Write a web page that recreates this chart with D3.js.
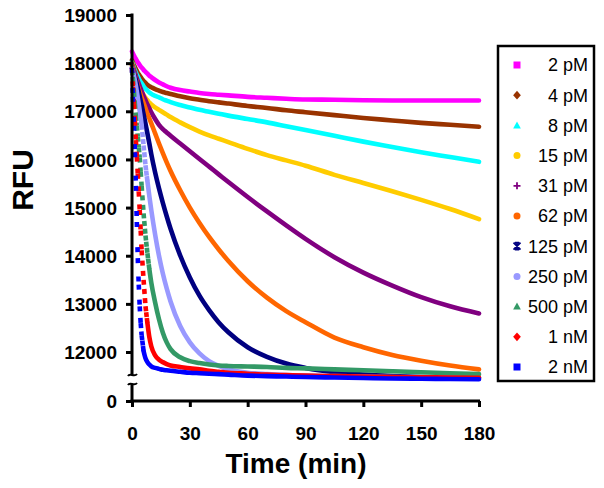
<!DOCTYPE html>
<html>
<head>
<meta charset="utf-8">
<script src="https://cdn.jsdelivr.net/npm/d3@7"></script>
<style>
  html, body { margin: 0; padding: 0; background: #fff; }
  svg { display: block; font-family: "Liberation Sans", Arial, sans-serif; }
</style>
</head>
<body>
<svg id="chart" width="604" height="488"></svg>
<script>
// ---------------- DATA ----------------
const times = [0, 0.5, 1, 1.5, 2, 2.5, 3, 3.5, 4, 4.5, 5, 6, 7, 8, 9, 10, 12, 14, 16, 18, 20, 25, 30, 35, 40, 45, 50, 60, 70, 80, 90, 105, 120, 135, 150, 165, 180];

const seriesLabels = ["2 pM", "4 pM", "8 pM", "15 pM", "31 pM", "62 pM", "125 pM", "250 pM", "500 pM", "1 nM", "2 nM"];

const v2pM   = [18240,18200,18160,18120,18090,18050,18020,17990,17960,17930,17910,17860,17820,17780,17740,17710,17650,17600,17560,17520,17490,17440,17410,17380,17360,17345,17330,17300,17280,17260,17245,17240,17230,17225,17225,17225,17225];
const v4pM   = [18060,18010,17960,17920,17880,17840,17800,17770,17740,17710,17680,17630,17590,17550,17520,17500,17460,17430,17400,17380,17360,17310,17270,17240,17210,17185,17160,17110,17070,17020,16980,16920,16860,16810,16760,16720,16680];
const v8pM   = [18020,17960,17900,17850,17800,17760,17720,17680,17640,17610,17580,17520,17470,17430,17390,17360,17320,17290,17250,17220,17190,17130,17080,17030,16990,16950,16910,16840,16770,16690,16610,16490,16370,16260,16150,16050,15950];
const v15pM  = [18000,17920,17850,17780,17720,17660,17600,17550,17500,17450,17410,17340,17280,17230,17180,17140,17080,17030,16980,16930,16880,16770,16670,16580,16500,16430,16360,16220,16090,15980,15870,15680,15510,15340,15160,14970,14760];
const v31pM  = [17980,17920,17860,17800,17740,17685,17630,17575,17520,17470,17420,17320,17230,17140,17060,16980,16840,16720,16630,16560,16490,16330,16170,16010,15850,15690,15530,15220,14920,14630,14350,13970,13650,13380,13140,12950,12800];
const v62pM  = [17950,17880,17810,17740,17670,17600,17530,17470,17400,17340,17280,17170,17060,16950,16850,16750,16540,16330,16130,15940,15760,15360,15000,14680,14390,14130,13890,13470,13130,12850,12620,12300,12100,11940,11820,11720,11640];
const v125pM = [17900,17850,17790,17720,17650,17570,17490,17400,17310,17220,17130,16940,16740,16540,16330,16110,15730,15400,15100,14820,14560,14005,13550,13170,12870,12615,12410,12100,11900,11760,11670,11580,11530,11500,11480,11470,11460];
const v250pM = [17900,17830,17740,17640,17530,17410,17280,17150,17010,16870,16720,16290,15880,15550,15235,14950,14440,14000,13630,13320,13050,12540,12200,11970,11810,11710,11640,11570,11540,11520,11510,11500,11490,11480,11475,11470,11465];
const v500pM = [17850,17650,17400,17150,16900,16700,16470,16250,16040,15740,15450,14880,14420,14050,13720,13440,13030,12680,12400,12200,12060,11890,11810,11770,11740,11720,11710,11700,11690,11670,11660,11640,11620,11600,11580,11560,11540];
const v1nM   = [17900,17500,17150,16800,16400,16060,15700,15330,14950,14520,14110,13500,12950,12600,12310,12120,11930,11840,11790,11750,11720,11690,11660,11640,11610,11590,11570,11550,11530,11520,11510,11500,11490,11480,11475,11470,11465];
const v2nM   = [17900,17300,16700,16150,15450,14700,13950,13400,12950,12600,12350,12020,11870,11790,11740,11700,11670,11650,11630,11620,11610,11590,11570,11560,11550,11540,11530,11510,11500,11490,11480,11470,11460,11450,11445,11440,11435];

const seriesValues = [v2pM, v4pM, v8pM, v15pM, v31pM, v62pM, v125pM, v250pM, v500pM, v1nM, v2nM];

const xTicks = [0, 30, 60, 90, 120, 150, 180];
const yTicks = [12000, 13000, 14000, 15000, 16000, 17000, 18000, 19000];
const yLowTicks = [0];

// ---------------- STYLE ----------------
const colors = ["#FF00FF", "#993300", "#00FFFF", "#FFCC00", "#800080", "#FF6600", "#000080", "#9999FF", "#339966", "#FF0000", "#0000FF"];
const markers = ["square", "diamond", "triangle", "circle", "plus", "circle", "star", "circle", "triangle", "diamond", "square"];

const svg = d3.select("#chart");

const x = d3.scaleLinear().domain([0, 180]).range([132, 479]);
const y = d3.scaleLinear().domain([11450, 19000]).range([378.5, 15]);
const yLow = d3.scaleLinear().domain([0, 300]).range([401, 386]);

const axisX = 132, axisY = 401;
const breakTop = 375, breakBot = 384;

function markerPath(type, s) {
  const h = s / 2;
  switch (type) {
    case "square": return `M${-h},${-h}H${h}V${h}H${-h}Z`;
    case "diamond": return `M0,${-h*1.25}L${h*1.1},0L0,${h*1.25}L${-h*1.1},0Z`;
    case "triangle": return `M0,${-h*1.15}L${h*1.1},${h*0.85}L${-h*1.1},${h*0.85}Z`;
    case "circle": return `M${h},0A${h},${h} 0 1,1 ${-h},0A${h},${h} 0 1,1 ${h},0Z`;
    case "plus": return `M${-h},0H${h}M0,${-h}V${h}`;
    case "star": return `M${-h},${-h}L${h},${h}M${h},${-h}L${-h},${h}M0,${-h}V${h}M${-h*0.6},${-h}H${h*0.6}M${-h*0.6},${h}H${h*0.6}`;
  }
}
function isStroked(type) { return type === "plus" || type === "star"; }

function drawMarker(g, type, cx, cy, s, color) {
  const p = g.append("path")
    .attr("d", markerPath(type, s))
    .attr("transform", `translate(${cx},${cy})`);
  if (isStroked(type)) {
    p.attr("fill", "none").attr("stroke", color).attr("stroke-width", 1.8);
  } else {
    p.attr("fill", color).attr("stroke", "none");
  }
}

// ---------------- CURVES ----------------
const plot = svg.append("g");
const lineGen = d3.line().x(d => x(d[0])).y(d => y(d[1])).curve(d3.curveMonotoneX);
const steepLimit = 8;      // px/px above which the sampled markers separate
const sampleDx = 0.67;     // horizontal pixel spacing of the original samples
const markSize = 5;

seriesValues.forEach((vals, si) => {
  const pts = times.map((t, i) => [t, vals[i]]);
  const g = plot.append("g");
  const segs = [];
  for (let i = 0; i < pts.length - 1; i++) {
    const dx = x(pts[i + 1][0]) - x(pts[i][0]);
    const dy = y(pts[i + 1][1]) - y(pts[i][1]);
    segs.push(Math.abs(dy / dx));
  }
  let run = [];
  const flush = () => {
    if (run.length > 1) {
      g.append("path").attr("d", lineGen(run))
        .attr("fill", "none").attr("stroke", colors[si])
        .attr("stroke-width", 4.6).attr("stroke-linejoin", "round").attr("stroke-linecap", "round");
    }
    run = [];
  };
  for (let i = 0; i < segs.length; i++) {
    const s = segs[i];
    if (s < steepLimit) {
      if (run.length === 0) run.push(pts[i]);
      run.push(pts[i + 1]);
    } else {
      flush();
      const gap = Math.max(0.5, sampleDx * s - markSize);
      g.append("line")
        .attr("x1", x(pts[i][0])).attr("y1", y(pts[i][1]))
        .attr("x2", x(pts[i + 1][0])).attr("y2", y(pts[i + 1][1]))
        .attr("stroke", colors[si]).attr("stroke-width", 4.6)
        .attr("stroke-dasharray", `${markSize},${gap.toFixed(1)}`);
    }
  }
  flush();
});

// ---------------- AXES ----------------
const axisG = svg.append("g");
const yAx = axisG.append("g").attr("transform", `translate(${axisX},0)`)
  .call(d3.axisLeft(y).tickValues(yTicks).tickSize(6).tickSizeOuter(0).tickPadding(9).tickFormat(d3.format("d")));
const yLowAx = axisG.append("g").attr("transform", `translate(${axisX},0)`)
  .call(d3.axisLeft(yLow).tickValues(yLowTicks).tickSize(6).tickSizeOuter(0).tickPadding(9).tickFormat(d3.format("d")));
const xAx = axisG.append("g").attr("transform", `translate(0,${axisY})`)
  .call(d3.axisBottom(x).tickValues(xTicks).tickSize(6).tickSizeOuter(0).tickPadding(20).tickFormat(d3.format("d")));

[yAx, yLowAx, xAx].forEach(a => {
  a.select(".domain").remove();
  a.selectAll(".tick line").attr("stroke", "#000").attr("stroke-width", 3);
  a.selectAll(".tick text").attr("fill", "#000").attr("font-size", 19).attr("font-weight", "bold")
    .attr("font-family", "'Liberation Sans', Arial, sans-serif");
});
yAx.selectAll(".tick text").attr("dy", "0.35em");
yLowAx.selectAll(".tick text").attr("dy", "0.35em");

// axis lines
axisG.append("line").attr("x1", axisX).attr("x2", axisX).attr("y1", y(19000) - 1.5).attr("y2", breakTop)
  .attr("stroke", "#000").attr("stroke-width", 3);
axisG.append("line").attr("x1", axisX).attr("x2", axisX).attr("y1", breakBot).attr("y2", axisY + 1.5)
  .attr("stroke", "#000").attr("stroke-width", 3);
axisG.append("line").attr("x1", axisX - 1.5).attr("x2", x(180) + 1).attr("y1", axisY).attr("y2", axisY)
  .attr("stroke", "#000").attr("stroke-width", 3);
// break marks
[breakTop, breakBot].forEach(by => {
  axisG.append("path")
    .attr("d", `M${axisX - 4},${by + 1} C${axisX - 2},${by - 3} ${axisX + 2},${by + 3} ${axisX + 5},${by - 1}`)
    .attr("fill", "none").attr("stroke", "#000").attr("stroke-width", 2);
});

// axis titles
svg.append("text").attr("x", 296).attr("y", 473).attr("text-anchor", "middle")
  .attr("font-size", 28).attr("font-weight", "bold").text("Time (min)");
svg.append("text").attr("transform", "translate(33,180) rotate(-90)").attr("text-anchor", "middle")
  .attr("font-size", 30).attr("font-weight", "bold").text("RFU");

// ---------------- LEGEND ----------------
const legend = svg.append("g");
legend.append("rect").attr("x", 498).attr("y", 46).attr("width", 96).attr("height", 335)
  .attr("fill", "#fff").attr("stroke", "#000").attr("stroke-width", 2.5);
seriesLabels.forEach((lab, i) => {
  const cy = 65 + i * 30.2;
  drawMarker(legend, markers[i], 517, cy, 7, colors[i]);
  legend.append("text").attr("x", 588).attr("y", cy).attr("dy", "0.36em")
    .attr("text-anchor", "end").attr("font-size", 18).attr("fill", "#000").text(lab);
});
</script>
</body>
</html>
